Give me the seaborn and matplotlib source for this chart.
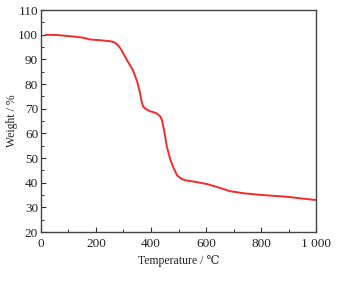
import matplotlib
matplotlib.use("Agg")
import matplotlib.pyplot as plt
import seaborn as sns
import pandas as pd
from matplotlib.ticker import MultipleLocator

temperature = [18, 60, 116, 150, 178, 215, 251, 268, 280, 290, 300, 317, 335, 350, 360, 366, 371, 380, 396, 410, 422, 433, 440, 448, 458, 470, 481, 495, 512, 530, 560, 603, 640, 687, 740, 808, 860, 905, 950, 1000]
weight = [100.0, 99.9, 99.3, 98.9, 98.1, 97.8, 97.4, 96.9, 95.8, 94.3, 92.3, 88.9, 85.5, 81.0, 76.5, 73.0, 71.0, 70.0, 69.0, 68.6, 68.0, 67.0, 65.4, 61.0, 54.5, 49.5, 46.3, 43.0, 41.5, 40.9, 40.4, 39.5, 38.3, 36.6, 35.7, 35.0, 34.6, 34.2, 33.6, 33.0]
xticks = [0, 200, 400, 600, 800, 1000]
xticklabels = ["0", "200", "400", "600", "800", "1 000"]
yticks = [20, 30, 40, 50, 60, 70, 80, 90, 100, 110]

sns.set_theme(style="ticks")
plt.rcParams['font.family'] = ['Liberation Serif', 'DejaVu Serif']

df = pd.DataFrame({"T": temperature, "W": weight})
fig = plt.figure(figsize=(3.41, 2.81), dpi=100)
ax = fig.add_axes([0.120, 0.174, 0.807, 0.790])
sns.lineplot(data=df, x="T", y="W", ax=ax, color="#f52a2a", linewidth=1.4)

ax.set_xlim(0, 1000)
ax.set_ylim(20, 110)
ax.set_xticks(xticks)
ax.set_xticklabels(xticklabels)
ax.set_yticks(yticks)
ax.xaxis.set_minor_locator(MultipleLocator(100))
ax.yaxis.set_minor_locator(MultipleLocator(5))
ax.tick_params(which="major", direction="in", length=3.5, width=0.8, labelsize=9.5, pad=2, colors="#333333", labelcolor="#222222")
ax.tick_params(axis="x", which="major", pad=4)
ax.tick_params(which="minor", direction="in", length=2, width=0.7, colors="#333333")
for s in ax.spines.values():
    s.set_linewidth(1.0)
    s.set_color("#444444")
ax.set_xlabel("Temperature / \u2103", fontsize=8.5, labelpad=4, color="#222222")
ax.set_ylabel("Weight / %", fontsize=8.5, labelpad=0, color="#222222")

fig.savefig("out.png", dpi=100)
